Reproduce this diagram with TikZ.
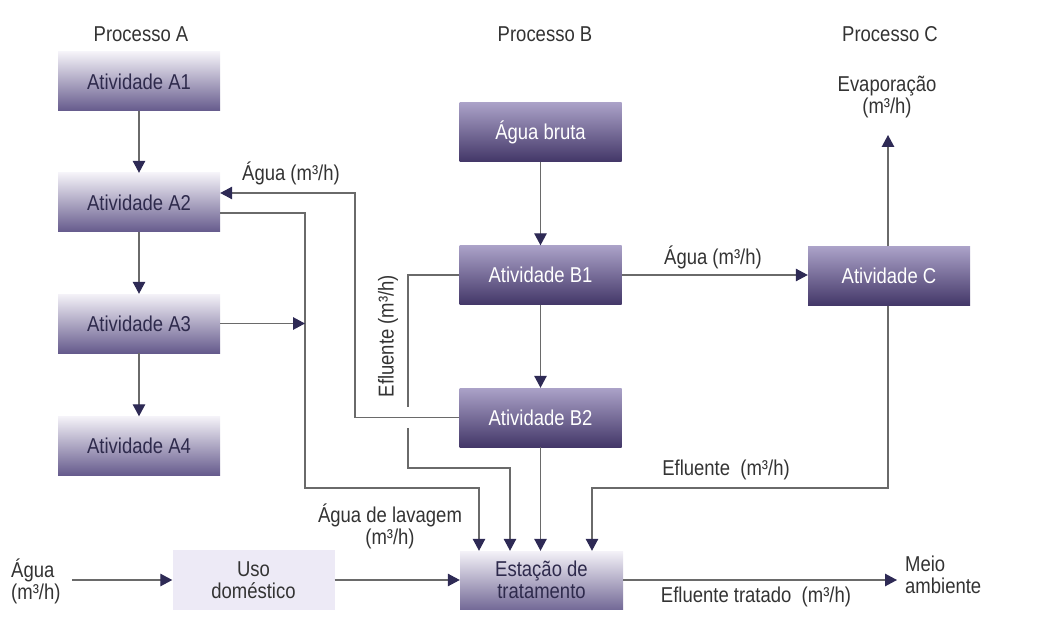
\documentclass[tikz,border=0pt]{standalone}
\usepackage{fontspec}
\setmainfont{Liberation Sans}[FakeStretch=0.86]
\usetikzlibrary{arrows.meta,calc}
\definecolor{linec}{HTML}{6A6A6A}
\definecolor{tipc}{HTML}{2E2A55}
\definecolor{txtc}{HTML}{333333}
\definecolor{boxtxt}{HTML}{2E2A4C}
\definecolor{lighttop}{HTML}{F4F2F8}
\definecolor{lightbot}{HTML}{655A8C}
\definecolor{darktop}{HTML}{ABA2C8}
\definecolor{darkbot}{HTML}{433768}
\definecolor{usofill}{HTML}{EDEAF6}
\begin{document}
\begin{tikzpicture}[x=1pt,y=-1pt,
  font=\fontsize{21.5}{22}\selectfont,
  basebox/.style={minimum width=162pt,minimum height=59pt,inner sep=0pt,align=center},
  lbox/.style={basebox,top color=lighttop,bottom color=lightbot,text=boxtxt},
  dbox/.style={basebox,top color=darktop,bottom color=darkbot,text=white},
  ubox/.style={basebox,fill=usofill,text=txtc},
  lbl/.style={text=txtc,inner sep=0pt,align=center},
  conn/.style={draw=linec,line width=1.3pt},
  arr/.style={conn,-{Triangle[length=12pt,width=12.5pt,color=tipc]}},
]
\useasboundingbox (0,0) rectangle (1047,631);

% titles
\node[lbl] (pA) at (141,34) {Processo A};
\node[lbl] (pB) at (545,34) {Processo B};
\node[lbl] (pC) at (890,34) {Processo C};

% process A
\node[lbox] (A1) at (139,81.5) {Atividade A1};
\node[lbox] (A2) at (139,202.5) {Atividade A2};
\node[lbox] (A3) at (139,323.5) {Atividade A3};
\node[lbox] (A4) at (139,446) {Atividade A4};

% process B
\node[dbox] (AB) at (540.5,132) {Água bruta};
\node[dbox] (B1) at (540.5,275) {Atividade B1};
\node[dbox] (B2) at (540.5,417.5) {Atividade B2};

% process C
\node[dbox] (C) at (889,276) {Atividade C};
\node[lbl] (evap) at (887,97) {Evaporação\\(m³/h)};
\coordinate (evtip) at (888,135);

% bottom row
\node[ubox,minimum height=60pt] (U) at (253.5,580) {Uso\\doméstico};
\node[lbox,minimum width=163pt,minimum height=58pt,bottom color=lightbot!90!white] (E) at (541.5,580) {Estação de\\tratamento};
\node[lbl,align=left,anchor=west] (agua) at (11,581) {Água\\(m³/h)};
\node[lbl,align=left,anchor=west] (meio) at (905,575) {Meio\\ambiente};
\coordinate (ain) at (72,580);
\coordinate (mtip) at (897,580);

% waypoints
\coordinate (w1) at (355,193);
\coordinate (w2) at (305,213);
\coordinate (w3) at (479,488);
\coordinate (w4) at (408,407);
\coordinate (w5) at (408,428);
\coordinate (w6) at (510,468);
\coordinate (w7) at (592,488);

% connectors A
\draw[arr] (A1.south) -- (A2.north);
\draw[arr] (A2.south) -- (A3.north);
\draw[arr] (A3.south) -- (A4.north);
% connectors B
\draw[arr] (AB.south) -- (B1.north);
\draw[arr] (B1.south) -- (B2.north);
\draw[arr] (B2.south) -- (B2.south |- E.north);
% B1 -> C, C -> evaporation
\draw[arr] (B1.east) -- (C.west |- B1.east);
\draw[arr] (C.north -| evtip) -- (evtip);
% B2 -> A2 (water reuse)
\draw[arr] (B2.west) -| (w1) -- (A2.east |- w1);
% A2 -> wash water -> station
\draw[arr] (A2.east |- w2) -- (w2) |- (w3) -- (w3 |- E.north);
% A3 -> joins wash water
\draw[arr] (A3.east) -- (A3.east -| w2);
% B1 effluent -> station (with gap at crossing)
\draw[conn] (B1.west) -| (w4);
\draw[arr] (w5) |- (w6) -- (w6 |- E.north);
% C effluent -> station
\draw[arr] (C.south -| evtip) |- (w7) -- (w7 |- E.north);
% bottom flow
\draw[arr] (ain) -- (U.west);
\draw[arr] (U.east) -- (E.west);
\draw[arr] (E.east) -- (mtip);

% labels
\node[lbl] (l1) at (291,173) {Água (m³/h)};
\node[lbl] (l2) at (713,257) {Água (m³/h)};
\node[lbl,rotate=90] (l3) at (388,336) {Efluente (m³/h)};
\node[lbl] (l4) at (726,470) {Efluente\ \ (m³/h)};
\node[lbl] (l5) at (390,526) {Água de lavagem\\(m³/h)};
\node[lbl] (l6) at (756,597) {Efluente tratado\ \ (m³/h)};
\end{tikzpicture}
\end{document}
